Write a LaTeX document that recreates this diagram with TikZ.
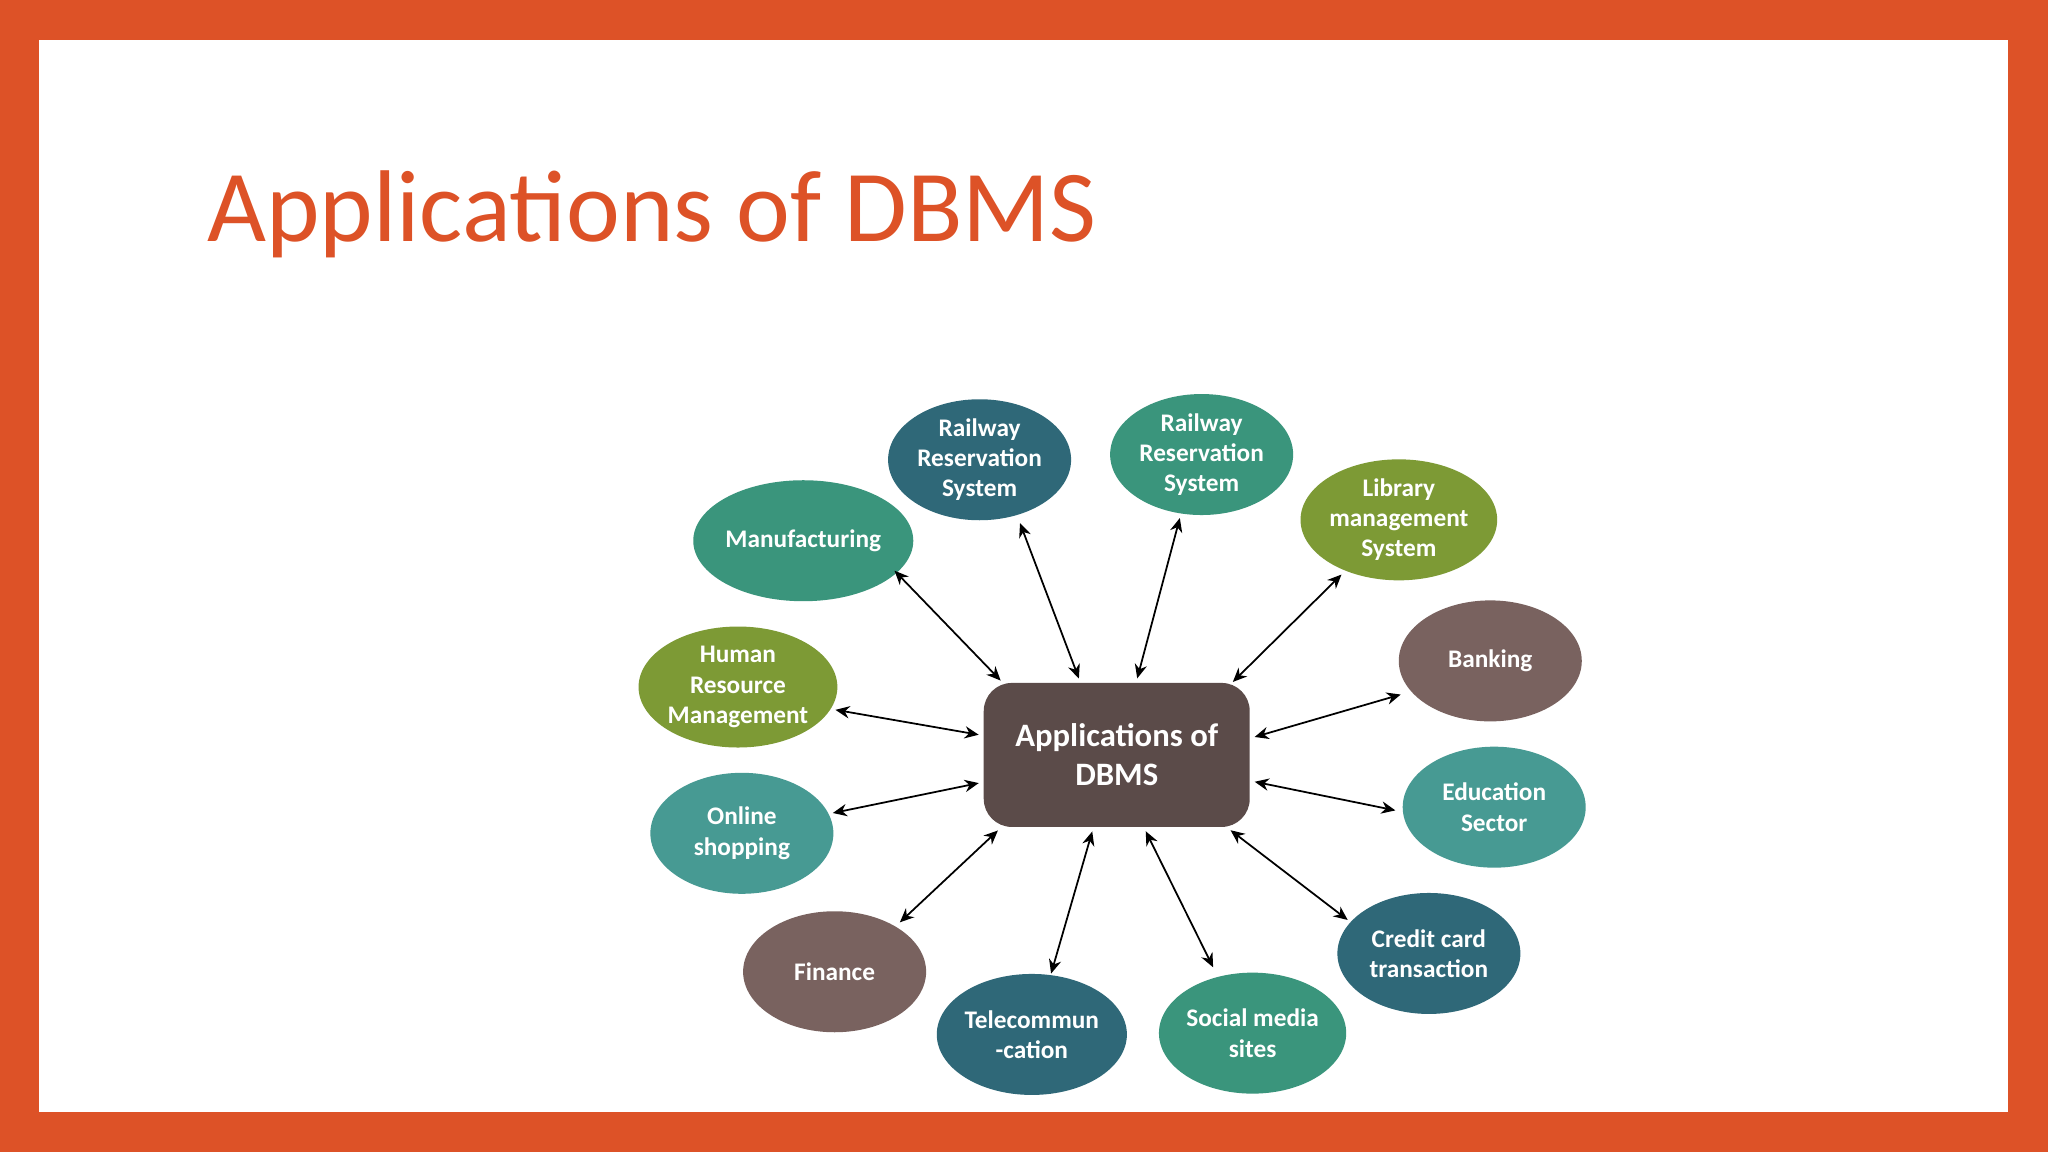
\documentclass[tikz,border=0pt]{standalone}
\usepackage{fontspec}
\setmainfont{Carlito}
\usetikzlibrary{shapes.geometric,arrows.meta}
\definecolor{frame}{HTML}{DD5227}
\definecolor{dteal}{HTML}{2F6878}
\definecolor{gteal}{HTML}{3A957C}
\definecolor{olive}{HTML}{7D9A35}
\definecolor{brownc}{HTML}{79625F}
\definecolor{lteal}{HTML}{479A93}
\definecolor{boxc}{HTML}{5B4B49}
\tikzset{
 app/.style={ellipse,minimum width=1.83cm,minimum height=1.21cm,inner sep=0pt,text=white,font=\fontsize{7.2}{8.6}\selectfont\bfseries,align=center},
 link/.style={{Stealth[length=4pt,width=3.5pt]}-{Stealth[length=4pt,width=3.5pt]},line width=0.5pt,shorten <=1pt,shorten >=1pt}
}
\begin{document}
\begin{tikzpicture}[x=0.01306cm,y=-0.01306cm]
\fill[frame] (0,0) rectangle (1568,882);
\fill[white] (30,31) rectangle (1537,851);
\node[anchor=base west,text=frame,font=\fontsize{29}{34}\selectfont,inner sep=0] (title) at (158,185) {Applications of DBMS};
\node[fill=boxc,rounded corners=8pt,minimum width=2.66cm,minimum height=1.44cm,text=white,font=\fontsize{9.3}{11}\selectfont\bfseries,align=center] (c) at (855,578) {Applications of\\DBMS};
\node[app,fill=dteal] (r1) at (750,352) {Railway\\Reservation\\System};
\node[app,fill=gteal] (r2) at (920,348) {Railway\\Reservation\\System};
\node[app,fill=olive] (lib) at (1071,398) {Library\\management\\System};
\node[app,fill=brownc] (bank) at (1141,506) {Banking};
\node[app,fill=lteal] (edu) at (1144,618) {Education\\Sector};
\node[app,fill=dteal] (cc) at (1094,730) {Credit card\\transaction};
\node[app,fill=gteal] (soc) at (959,791) {Social media\\sites};
\node[app,fill=dteal] (tel) at (790,792) {Telecommun\\-cation};
\node[app,fill=brownc] (fin) at (639,744) {Finance};
\node[app,fill=lteal] (shop) at (568,638) {Online\\shopping};
\node[app,fill=olive] (hrm) at (565,526) {Human\\Resource\\Management};
\node[app,fill=gteal] (man) at (615,414) {Manufacturing};
\draw[link] (768,523) -- (683,435);
\draw[link] (827,522) -- (780,398);
\draw[link] (870,522) -- (904,394);
\draw[link] (942,524) -- (1029,438);
\draw[link] (958,565) -- (1075,531);
\draw[link] (958,598) -- (1071,621);
\draw[link] (940,634) -- (1034,706);
\draw[link] (876,634) -- (930,743);
\draw[link] (837,634) -- (804,748);
\draw[link] (766,634) -- (687,708);
\draw[link] (752,599) -- (635,623);
\draw[link] (752,563) -- (637,543);
\end{tikzpicture}
\end{document}
